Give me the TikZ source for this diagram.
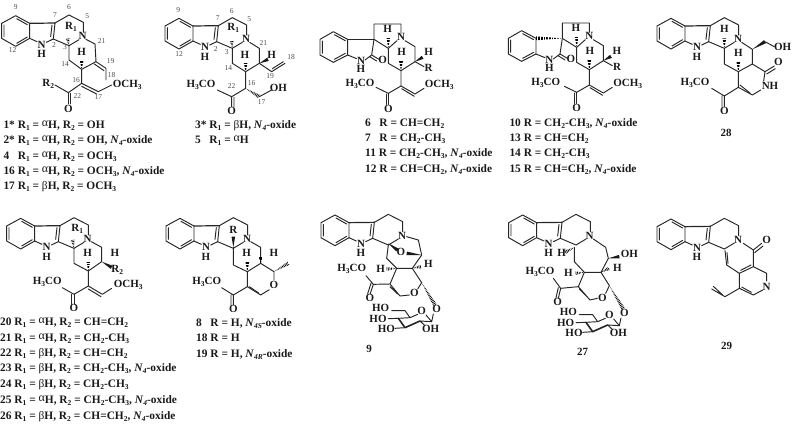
\documentclass[tikz,border=0pt]{standalone}
\usepackage{fontspec}
\setmainfont{Liberation Serif}
\usetikzlibrary{calc}
\newcounter{nn}
\tikzset{
  bond/.style={line width=0.95pt,line cap=round,line join=round,black!85},
  atom/.style={font=\fontsize{11}{11}\selectfont\bfseries,inner sep=0pt,text=black!90},
  locant/.style={font=\fontsize{7.5}{8}\selectfont,inner sep=0pt,text=black!70},
  listline/.style={font=\fontsize{11.4}{11}\selectfont\bfseries,inner sep=0pt,anchor=base west,text=black!90}
}
\newcommand\sbb[1]{\raisebox{-2pt}{\fontsize{7.5}{8}\selectfont #1}}
\newcommand\aH{\raisebox{2pt}{\normalfont\fontsize{12}{11}\selectfont α}H}
\newcommand\bH{\normalfont β\bfseries H}
\newcommand\Nf[1]{\textit{N}\sbb{\textit{#1}}-oxide}
\def\bb{\draw[bond]}
\def\atm(#1,#2)#3{\stepcounter{nn}\node[atom] (t\arabic{nn}) at (#1,#2) {#3};}
\def\loc(#1,#2)#3{\stepcounter{nn}\node[locant] (t\arabic{nn}) at (#1,#2) {#3};}
\def\lst(#1,#2)#3{\stepcounter{nn}\node[listline] (t\arabic{nn}) at (#1,#2) {#3};}
\def\wdg(#1)(#2){\fill[black!90] (#1)--($(#2)!1.8pt!90:(#1)$)--($(#2)!1.8pt!-90:(#1)$)--cycle;}
\def\hsh(#1)(#2){\begin{scope}\clip (#1)--($(#2)!1.9pt!90:(#1)$)--($(#2)!1.9pt!-90:(#1)$)--cycle;\draw[line width=5pt,dash pattern=on .7pt off .9pt,black] (#1)--(#2);\end{scope}}
% indole + ring C; (#1,#2) is the top vertex of the benzene ring
\def\core(#1,#2){\begin{scope}[shift={(#1,#2)}]
 \bb (0,0)--(42,23)--(42,68)--(0,92)--(-42,68)--(-42,23)--cycle;
 \bb (-35,28)--(-35,63) (3,9)--(35,27) (3,83)--(35,64);
 \draw[bond,line width=1.2pt] (42,23)--(118,22);
 \bb (118,22)--(113,70)--(92,80) (42,68)--(64,78);
 \bb (109,28)--(105,63);
 \bb (118,22)--(160,-2)--(203,20)--(203,50) (190,72)--(160,90)--(113,70);
 \atm(78,87){N}\atm(78,115){H}\atm(201,62){N}
 \end{scope}}
% sugar, coordinates of the ring in compound 9
\def\sugar{
 \bb (305,287)--(345,287)--(360,308)--(383,298) (408,300)--(425,320)--(430,297) (325,310)--(360,308);
 \draw[bond,line width=1.6pt] (325,310)--(345,338)--(390,318);
 \bb (390,318)--(425,320) (295,311)--(325,310) (315,340)--(345,338) (390,318)--(405,332);
 \atm(272,280){HO}\atm(264,311){HO}\atm(289,341){HO}\atm(422,342){OH}\atm(395,288){O}\atm(440,283){O}}
% oxindole alkaloid, coordinates of compound 6
\def\oxi#1{
 \bb (100,95)--(143,118)--(143,165)--(100,187)--(60,165)--(60,118)--cycle;
 \bb (67,123)--(67,160) (103,104)--(136,122) (103,178)--(136,160);
 #1
 \bb (143,165)--(170,176) (195,180)--(215,165) (222,118)--(215,165)--(237,178) (209,170)--(230,183);
 \bb (222,118)--(222,72)--(303,72)--(303,100) (222,118)--(265,145)--(291,122) (265,145)--(265,190)--(303,212)--(345,185)--(345,140)--(315,122);
 \bb (345,185)--(372,200);
 \hsh(265,145)(265,112) \hsh(303,212)(303,183) \wdg(345,185)(368,172)
 \bb (303,212)--(303,258)--(265,280)--(228,262) (303,258)--(345,282)--(372,265) (305,266)--(343,289);
 \bb (265,280)--(265,313) (258,282)--(258,313);
 \atm(183,182){N}\atm(183,208){H}\atm(248,180){O}\atm(263,88){H}\atm(303,112){N}\atm(305,157){H}\atm(386,157){H}\atm(386,205){R}\atm(265,327){O}\atm(418,255){OCH\sbb{3}}
}
\begin{document}
\begin{tikzpicture}[x=0.33333pt,y=-0.33333pt]
\useasboundingbox (0,0) rectangle (2379,1281);
% ---- compound 1
\core(47,47)
\bb (258,118)--(285,132)--(288,185)--(245,208)--(207,180)--(207,137);
\bb (288,185)--(318,205)--(318,240) (283,192)--(312,212);
\hsh(207,137)(203,115) \hsh(245,208)(245,180)
\bb (245,208)--(245,250)--(205,278)--(165,255) (245,250)--(295,275)--(335,255) (245,259)--(290,282);
\bb (205,278)--(205,312) (212,280)--(212,312);
\atm(245,155){H}\atm(145,252){R\sbb{2}}\atm(382,255){OCH\sbb{3}}\atm(205,327){O}\atm(213,80){R\sbb{1}}
\loc(47,22){9}\loc(165,45){7}\loc(207,22){6}\loc(262,48){5}\loc(38,150){12}\loc(162,135){2}\loc(195,140){3}\loc(305,122){21}\loc(195,192){14}\loc(332,183){19}\loc(335,225){18}\loc(228,240){16}\loc(232,288){22}\loc(295,290){17}
\lst(10,385){1* R\sbb{1} = \aH, R\sbb{2} = OH}
\lst(10,430){2* R\sbb{1} = \aH, R\sbb{2} = OH, \Nf{4}}
\lst(10,477){4\ \ \ R\sbb{1} = \aH, R\sbb{2} = OCH\sbb{3}}
\lst(10,523){16 R\sbb{1} = \aH, R\sbb{2} = OCH\sbb{3}, \Nf{4}}
\lst(10,568){17 R\sbb{1} = \bH, R\sbb{2} = OCH\sbb{3}}
% ---- compound 3
\core(537,55)
\bb (749,127)--(778,145)--(778,190)--(737,215)--(697,190)--(697,145);
\hsh(697,145)(695,123) \hsh(737,215)(737,188) \wdg(778,190)(804,178)
\bb (778,190)--(815,215)--(855,190) (817,206)--(850,185);
\bb (737,215)--(737,265)--(695,290)--(652,270) (695,290)--(695,320) (702,292)--(702,320);
\hsh(737,265)(778,290) \bb (778,290)--(815,270);
\atm(700,85){R\sbb{1}}\atm(735,165){H}\atm(815,165){H}\atm(603,255){H\sbb{3}CO}\atm(835,265){OH}\atm(695,333){O}
\loc(535,30){9}\loc(653,55){7}\loc(695,33){6}\loc(748,58){5}\loc(537,162){12}\loc(647,147){2}\loc(680,155){3}\loc(790,130){21}\loc(685,205){14}\loc(755,250){16}\loc(695,258){22}\loc(785,305){17}\loc(810,228){19}\loc(873,170){18}
\lst(585,385){3* R\sbb{1} = \bH, \Nf{4}}
\lst(585,430){5\ \ \ R\sbb{1} = \aH}
% ---- compound 6
\begin{scope}[shift={(900,0)}]
\oxi{\draw[bond,line width=1.6pt] (143,118)--(222,118);}
\atm(180,252){H\sbb{3}CO}
\lst(195,380){6\ \ \ R = CH=CH\sbb{2}}
\lst(195,425){7\ \ \ R = CH\sbb{2}-CH\sbb{3}}
\lst(195,470){11 R = CH\sbb{2}-CH\sbb{3}, \Nf{4}}
\lst(195,517){12 R = CH=CH\sbb{2}, \Nf{4}}
\end{scope}
% ---- compound 10
\begin{scope}[shift={(1465,-3)}]
\oxi{\hsh(222,118)(143,118)}
\atm(172,251){H\sbb{3}CO}
\end{scope}
\lst(1528,380){10 R = CH\sbb{2}-CH\sbb{3}, \Nf{4}}
\lst(1528,425){13 R = CH=CH\sbb{2}}
\lst(1528,470){14 R = CH\sbb{2}-CH\sbb{3}}
\lst(1528,517){15 R = CH=CH\sbb{2}, \Nf{4}}
% ---- compound 28
\begin{scope}[shift={(1770,0)}]
\core(243,55)
\bb (455,127)--(487,148)--(487,192)--(445,215)--(403,192)--(403,145);
\hsh(403,145)(403,115) \hsh(445,215)(445,185) \wdg(487,148)(525,125)
\bb (525,125)--(553,140) (487,192)--(525,215)--(553,198) (530,222)--(556,206) (525,215)--(521,243) (512,270)--(487,285)--(445,262)--(445,215);
\bb (481,280)--(450,255);
\bb (445,262)--(403,288)--(365,265) (403,288)--(403,320) (396,288)--(396,320);
\atm(403,88){H}\atm(445,160){H}\atm(578,140){OH}\atm(565,187){O}\atm(540,258){NH}\atm(315,250){H\sbb{3}CO}\atm(403,332){O}
\atm(408,398){28}
\end{scope}
% ---- compound 20
\begin{scope}[shift={(0,645)}]
\core(62,10)
\bb (274,80)--(305,97)--(305,140)--(265,168)--(222,145)--(222,100);
\hsh(222,100)(218,75) \hsh(265,168)(265,140) \wdg(305,140)(335,157)
\bb (265,168)--(265,213)--(222,238)--(187,218) (265,213)--(307,238)--(335,220) (265,222)--(303,245);
\bb (222,238)--(222,268) (215,238)--(215,268);
\atm(232,42){R\sbb{1}}\atm(263,115){H}\atm(345,115){H}\atm(352,165){R\sbb{2}}\atm(142,200){H\sbb{3}CO}\atm(385,210){OCH\sbb{3}}\atm(222,280){O}
\lst(0,330){20 R\sbb{1} = \aH, R\sbb{2} = CH=CH\sbb{2}}
\lst(0,380){21 R\sbb{1} = \aH, R\sbb{2} = CH\sbb{2}-CH\sbb{3}}
\lst(0,423){22 R\sbb{1} = \bH, R\sbb{2} = CH=CH\sbb{2}}
\lst(0,470){23 R\sbb{1} = \bH, R\sbb{2} = CH\sbb{2}-CH\sbb{3}, \Nf{4}}
\lst(0,516){24 R\sbb{1} = \bH, R\sbb{2} = CH\sbb{2}-CH\sbb{3}}
\lst(0,566){25 R\sbb{1} = \aH, R\sbb{2} = CH\sbb{2}-CH\sbb{3}, \Nf{4}}
\lst(0,613){26 R\sbb{1} = \bH, R\sbb{2} = CH=CH\sbb{2}, \Nf{4}}
% ---- compound 8
\core(540,10)
\bb (752,80)--(782,97)--(782,145)--(742,170)--(700,150)--(700,97);
\wdg(700,97)(700,65) \hsh(742,170)(742,140) \hsh(782,145)(782,125)
\bb (782,145)--(822,170)--(822,195) (808,224)--(782,240)--(742,215)--(742,170);
\hsh(822,170)(865,145)
\bb (776,234)--(748,215);
\bb (742,215)--(700,240)--(665,218) (700,240)--(700,270) (693,240)--(693,270);
\atm(700,45){R}\atm(740,115){H}\atm(822,115){H}\atm(822,210){O}\atm(620,200){H\sbb{3}CO}\atm(700,282){O}
\lst(588,335){8\ \ \ R = H, \textit{N}\sbb{\textit{4S}}-oxide}
\lst(588,380){18 R = H}
\lst(588,427){19 R = H, \textit{N}\sbb{\textit{4R}}-oxide}
\end{scope}
% ---- compound 9
\begin{scope}[shift={(870,645)}]
\core(135,0)
\bb (350,65)--(385,75)--(395,120)--(367,160)--(320,160)--(290,130)--(295,90);
\wdg(295,85)(322,105) \wdg(395,120)(350,115)
\hsh(320,160)(290,162) \hsh(367,160)(393,155)
\bb (367,160)--(395,203)--(383,222) (358,240)--(330,243)--(300,207)--(320,160) (323,237)--(300,215);
\bb (300,207)--(250,208)--(228,182) (250,208)--(240,238) (243,205)--(233,236);
\hsh(395,203)(435,270)
\atm(333,112){O}\atm(272,162){H}\atm(415,147){H}\atm(373,235){O}\atm(185,162){H\sbb{3}CO}\atm(240,250){O}
\sugar
\atm(237,402){9}
\end{scope}
% ---- compound 27
\begin{scope}[shift={(1620,645)}]
\core(-52,0)
\bb (160,72)--(197,97)--(205,130)--(183,172)--(133,172)--(103,140)--(103,97);
\hsh(103,97)(75,112) \wdg(205,130)(238,125) \hsh(183,172)(207,160) \hsh(133,172)(105,175)
\bb (183,172)--(208,212)--(197,235) (172,250)--(150,255)--(115,215)--(133,172) (143,247)--(118,222);
\bb (115,215)--(62,220)--(40,190) (62,220)--(55,250) (55,218)--(48,248);
\hsh(208,212)(250,282)
\atm(65,115){H}\atm(268,118){OH}\atm(232,158){H}\atm(85,175){H}\atm(0,170){H\sbb{3}CO}\atm(53,262){O}\atm(187,248){O}
\begin{scope}[shift={(-187,12)}]\sugar\end{scope}
\atm(128,410){27}
% ---- compound 29
\core(393,12)
\bb (610,85)--(640,105)--(665,85) (644,113)--(669,93);
\bb (640,105)--(640,155)--(680,175)--(680,198) (668,225)--(640,240)--(598,220)--(598,175)--(560,150)--(555,107);
\bb (564,145)--(561,113) (640,155)--(598,175) (633,150)--(602,166) (634,232)--(605,216);
\bb (598,220)--(555,245)--(515,222) (548,240)--(520,214);
\atm(680,75){O}\atm(680,215){N}
\atm(560,393){29}
\end{scope}
\end{tikzpicture}
\end{document}
